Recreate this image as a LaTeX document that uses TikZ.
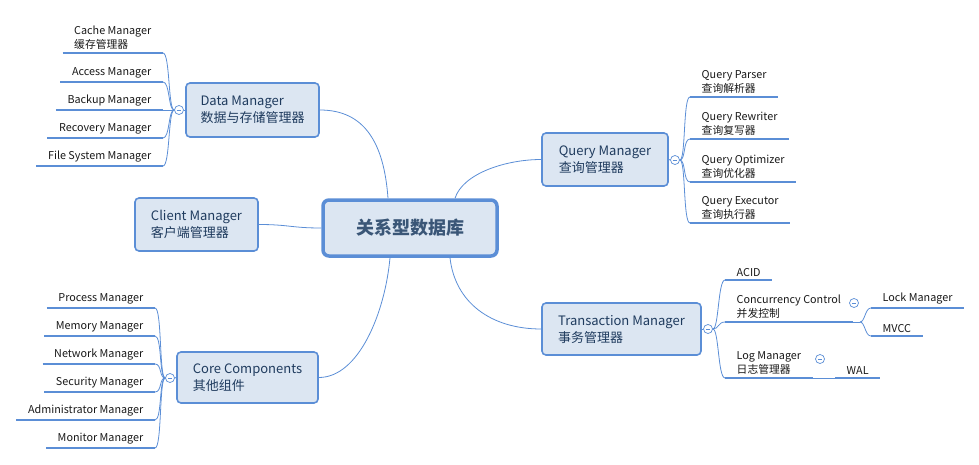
\documentclass[tikz,border=0pt]{standalone}
\usepackage{fontspec}
\setmainfont{Noto Sans CJK SC}
\usepackage{tikz}

\definecolor{linecol}{HTML}{5B8ED6}
\definecolor{boxfill}{HTML}{DCE6F2}
\definecolor{boxtext}{HTML}{1F3B5E}
\definecolor{roottext}{HTML}{3A5677}

\begin{document}
\begin{tikzpicture}[x=1pt,y=-1pt,
		rootbox/.style={draw=linecol,fill=boxfill,line width=3.5pt,rounded corners=6pt,minimum width=174pt,minimum height=56pt,text=roottext,font=\fontsize{18}{22}\selectfont\bfseries},
		topic/.style={draw=linecol,fill=boxfill,line width=1.6pt,rounded corners=4pt,align=left,inner sep=0pt,text=boxtext,font=\fontsize{13}{17}\selectfont},
		leafline/.style={draw=linecol,line width=2pt},
		leaf/.style={inner xsep=11.5pt,inner ysep=3.5pt,align=left,text=black!90,font=\fontsize{10.8}{14}\selectfont,append after command={(\tikzlastnode.south west) edge[leafline] (\tikzlastnode.south east)}},
		branch/.style={draw=linecol,line width=0.8pt},
		twig/.style={draw=linecol,line width=0.8pt},
		fold/.style={circle,draw=linecol,fill=white,line width=0.7pt,minimum size=9pt,inner sep=0pt,path picture={\draw[linecol,line width=0.7pt] ([xshift=-2.2pt]path picture bounding box.center) -- ([xshift=2.2pt]path picture bounding box.center);}}]
		\useasboundingbox (0,0) rectangle (979,465);
		% central topic and main branches
		\node[rootbox] (root) at (410,228) {关系型数据库};
		\node[topic,minimum width=133pt,minimum height=54pt] (dm) at (252.5,110) {Data Manager\\数据与存储管理器};
		\node[topic,minimum width=123pt,minimum height=53pt] (client) at (196.5,224.5) {Client Manager\\客户端管理器};
		\node[topic,minimum width=141pt,minimum height=51pt] (core) at (247.5,377.5) {Core Components\\其他组件};
		\node[topic,minimum width=126pt,minimum height=53pt] (query) at (605,159.5) {Query Manager\\查询管理器};
		\node[topic,minimum width=159pt,minimum height=52pt] (trans) at (621.5,329) {Transaction Manager\\事务管理器};
		\draw[branch] (dm.east) .. controls +(45,0) and +(-4,-55) .. ([xshift=-22pt]root.north);
		\draw[branch] (client.east) .. controls +(30,0) and +(-30,0) .. (root.west);
		\draw[branch] (core.east) .. controls +(40,0) and +(-5,55) .. ([xshift=-20pt]root.south);
		\draw[branch] ([xshift=45pt]root.north) .. controls +(8,-25) and +(-35,0) .. (query.west);
		\draw[branch] ([xshift=40pt]root.south) .. controls +(5,45) and +(-50,0) .. (trans.west);
		% data manager
		\node[fold] (dmfold) at (179,110) {};
		\draw[branch] (dm.west) -- (dmfold.east);
		\node[leaf,anchor=south east] (cache) at (163,53) {Cache Manager\\缓存管理器};
		\node[leaf,anchor=south east] (access) at (163,82) {Access Manager};
		\node[leaf,anchor=south east] (backup) at (163,110) {Backup Manager};
		\node[leaf,anchor=south east] (recovery) at (163,138) {Recovery Manager};
		\node[leaf,anchor=south east] (filesys) at (163,166) {File System Manager};
		\draw[twig] (dmfold.west) .. controls +(-6,0) and +(7,0) .. (cache.south east);
		\draw[twig] (dmfold.west) .. controls +(-6,0) and +(7,0) .. (access.south east);
		\draw[twig] (dmfold.west) -- (backup.south east);
		\draw[twig] (dmfold.west) .. controls +(-6,0) and +(7,0) .. (recovery.south east);
		\draw[twig] (dmfold.west) .. controls +(-6,0) and +(7,0) .. (filesys.south east);
		% core components
		\node[fold] (corefold) at (170,378) {};
		\draw[branch] (core.west) -- (corefold.east);
		\node[leaf,anchor=south east] (process) at (155,308) {Process Manager};
		\node[leaf,anchor=south east] (memory) at (155,336) {Memory Manager};
		\node[leaf,anchor=south east] (network) at (155,364) {Network Manager};
		\node[leaf,anchor=south east] (security) at (155,392) {Security Manager};
		\node[leaf,anchor=south east] (admin) at (155,420) {Administrator Manager};
		\node[leaf,anchor=south east] (monitor) at (155,448) {Monitor Manager};
		\draw[twig] (corefold.west) .. controls +(-6,0) and +(7,0) .. (process.south east);
		\draw[twig] (corefold.west) .. controls +(-6,0) and +(7,0) .. (memory.south east);
		\draw[twig] (corefold.west) .. controls +(-6,0) and +(7,0) .. (network.south east);
		\draw[twig] (corefold.west) .. controls +(-6,0) and +(7,0) .. (security.south east);
		\draw[twig] (corefold.west) .. controls +(-6,0) and +(7,0) .. (admin.south east);
		\draw[twig] (corefold.west) .. controls +(-6,0) and +(7,0) .. (monitor.south east);
		% query manager
		\node[fold] (queryfold) at (675,160) {};
		\draw[branch] (query.east) -- (queryfold.west);
		\node[leaf,anchor=south west] (qparser) at (690,97) {Query Parser\\查询解析器};
		\node[leaf,anchor=south west] (qrewriter) at (690,139) {Query Rewriter\\查询复写器};
		\node[leaf,anchor=south west] (qoptimizer) at (690,182) {Query Optimizer\\查询优化器};
		\node[leaf,anchor=south west] (qexecutor) at (690,223) {Query Executor\\查询执行器};
		\draw[twig] (queryfold.east) .. controls +(6,0) and +(-7,0) .. (qparser.south west);
		\draw[twig] (queryfold.east) .. controls +(6,0) and +(-7,0) .. (qrewriter.south west);
		\draw[twig] (queryfold.east) .. controls +(6,0) and +(-7,0) .. (qoptimizer.south west);
		\draw[twig] (queryfold.east) .. controls +(6,0) and +(-7,0) .. (qexecutor.south west);
		% transaction manager
		\node[fold] (transfold) at (708,329) {};
		\draw[branch] (trans.east) -- (transfold.west);
		\node[leaf,anchor=south west] (acid) at (725,280) {ACID};
		\node[leaf,anchor=south west] (cc) at (725,322) {Concurrency Control\\并发控制};
		\node[leaf,anchor=south west] (log) at (725,378) {Log Manager\\日志管理器};
		\draw[twig] (transfold.east) .. controls +(6,0) and +(-7,0) .. (acid.south west);
		\draw[twig] (transfold.east) .. controls +(6,0) and +(-7,0) .. (cc.south west);
		\draw[twig] (transfold.east) .. controls +(6,0) and +(-7,0) .. (log.south west);
		\node[fold] (ccfold) at (854,303) {};
		\coordinate (ccjoin) at (860,322);
		\node[leaf,anchor=south west] (lock) at (871,308) {Lock Manager};
		\node[leaf,anchor=south west] (mvcc) at (871,336) {MVCC};
		\draw[twig] (cc.south east) -- (ccjoin);
		\draw[twig] (ccjoin) .. controls +(5,0) and +(-6,0) .. (lock.south west);
		\draw[twig] (ccjoin) .. controls +(5,0) and +(-6,0) .. (mvcc.south west);
		\node[fold] (logfold) at (820,359) {};
		\node[leaf,anchor=south west] (wal) at (835,378) {WAL};
		\draw[twig] (log.south east) -- (wal.south west);
	\end{tikzpicture}
\end{document}
